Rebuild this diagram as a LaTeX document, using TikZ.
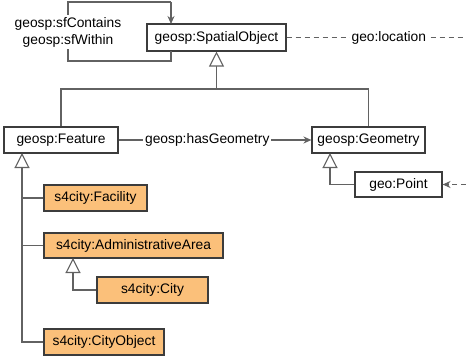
\documentclass[tikz,border=0pt]{standalone}
\usepackage{fontspec}
\setmainfont{Liberation Sans}
\usetikzlibrary{arrows.meta}
\definecolor{linegray}{HTML}{626262}
\definecolor{boxgray}{HTML}{3C3C3C}
\definecolor{cityorange}{HTML}{FBC07A}

\begin{document}
\begin{tikzpicture}[x=1pt,y=-1pt,font=\fontsize{13.8}{18}\selectfont]
	\tikzstyle{cls}=[draw=boxgray,line width=1.1pt,fill=white,inner sep=0pt,text height=10pt,text depth=3pt]
	\tikzstyle{city}=[cls,fill=cityorange]
	\tikzstyle{gen}=[draw=linegray,line width=1.1pt,-{Triangle[open,length=15pt,width=15pt,fill=white]}]
	\tikzstyle{assoc}=[draw=linegray,line width=1.1pt,-{Stealth[length=8pt,width=7pt]}]
	\tikzstyle{link}=[draw=linegray,line width=1.1pt]
	\tikzstyle{lbl}=[fill=white,inner sep=2pt]
	\useasboundingbox (0,0) rectangle (466,356);
	\node[cls,minimum width=139pt,minimum height=27pt] (so) at (216.5,37.5) {geosp:SpatialObject};
	\node[cls,minimum width=114pt,minimum height=26pt] (feat) at (61,140) {geosp:Feature};
	\node[cls,minimum width=113pt,minimum height=26pt] (geom) at (368.5,140) {geosp:Geometry};
	\node[cls,minimum width=87pt,minimum height=25pt] (point) at (398.5,184.5) {geo:Point};
	\node[city,minimum width=103pt,minimum height=26pt] (fac) at (95.5,198) {s4city:Facility};
	\node[city,minimum width=179pt,minimum height=25pt] (adm) at (133.5,245.5) {s4city:AdministrativeArea};
	\node[city,minimum width=111pt,minimum height=26pt] (cty) at (152.5,290) {s4city:City};
	\node[city,minimum width=120pt,minimum height=26pt] (cobj) at (104,342) {s4city:CityObject};
	\coordinate (j1) at (216.5,89);
	\coordinate (ft) at (22,153);
	\coordinate (at) at (73,258);
	\coordinate (gt) at (330,153);
	\coordinate (s1) at (171,51);
	\coordinate (s2) at (68,61);
	\coordinate (s3) at (171,2);
	\coordinate (s4) at (171,24);
	\coordinate (loc) at (466,37.5);
	\coordinate (pe) at (466,184.5);
	\draw[link] (s1) |- (s2) |- (s3);
	\draw[assoc] (s3) -- (s4);
	\node[lbl,align=center] (sf) at (68,32) {geosp:sfContains\\[-1pt]geosp:sfWithin};
	\draw[link,dash pattern=on 5pt off 4pt] (so.east) -- node[lbl,pos=0.57] (gl) {geo:location} (loc);
	\draw[assoc,dash pattern=on 5pt off 4pt] (pe) -- (point.east);
	\draw[assoc] (feat) -- node[lbl,pos=0.46] (hg) {geosp:hasGeometry} (geom);
	\draw[link] (feat.north) |- (j1);
	\draw[gen] (geom.north) |- (j1) -- (so.south);
	\draw[gen] (cobj.west) -| (ft);
	\draw[link] (fac.west) -- (fac.west -| ft);
	\draw[link] (adm.west) -- (adm.west -| ft);
	\draw[gen] (cty.west) -| (at);
	\draw[gen] (point.west) -| (gt);
\end{tikzpicture}
\end{document}
